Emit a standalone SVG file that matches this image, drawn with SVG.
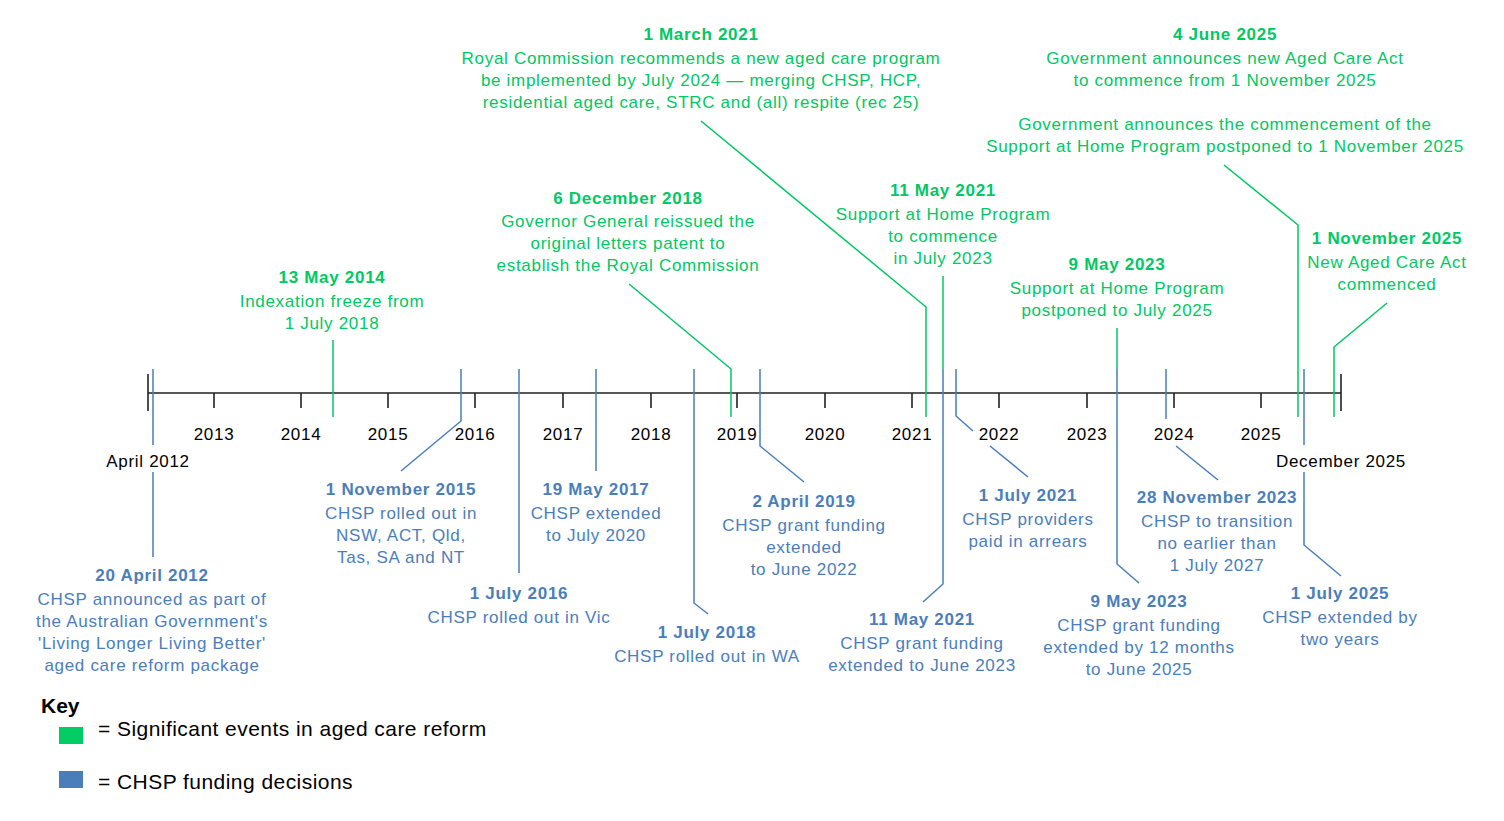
<svg xmlns="http://www.w3.org/2000/svg" width="1504" height="821" viewBox="0 0 1504 821">
<style>
text{font-family:"Liberation Sans",Arial,sans-serif;font-size:17px;letter-spacing:0.7px;text-anchor:middle}
.g{fill:#00C864}
.b{fill:#4A7EBB}
.k{fill:#000}
.h{font-weight:bold}
.gl{stroke:#00C864;stroke-width:1.5;fill:none}
.bl{stroke:#4A7EBB;stroke-width:1.5;fill:none}
.ax{stroke:#222;stroke-width:1.6;fill:none}
.key{font-size:21px;letter-spacing:0.45px;text-anchor:start}
</style>
<rect width="1504" height="821" fill="#fff"/>
<g id="axis">
<path class="ax" d="M148 393H1341M148 374V411M1341 374V411M214 393V408M301 393V408M388 393V408M475 393V408M563 393V408M651 393V408M737 393V408M825 393V408M912 393V408M999 393V408M1087 393V408M1174 393V408M1261 393V408"/>
<g class="k">
<text x="214" y="440">2013</text>
<text x="301" y="440">2014</text>
<text x="388" y="440">2015</text>
<text x="475" y="440">2016</text>
<text x="563" y="440">2017</text>
<text x="651" y="440">2018</text>
<text x="737" y="440">2019</text>
<text x="825" y="440">2020</text>
<text x="912" y="440">2021</text>
<text x="999" y="440">2022</text>
<text x="1087" y="440">2023</text>
<text x="1174" y="440">2024</text>
<text x="1261" y="440">2025</text>
<text x="148" y="467">April 2012</text>
<text x="1341" y="467">December 2025</text>
</g>
</g>
<g id="connectors">
<path class="bl" d="M153 369V445M153 472V557"/>
<path class="bl" d="M461 369V421L401 471"/>
<path class="bl" d="M519 369V573"/>
<path class="bl" d="M596 369V471"/>
<path class="bl" d="M694 369V603L708 614"/>
<path class="bl" d="M760 369V446L804 482"/>
<path class="bl" d="M943 369V584L923 602"/>
<path class="bl" d="M956 369V416L973 431M990 446L1028 477"/>
<path class="bl" d="M1117 369V564L1139 583"/>
<path class="bl" d="M1166 369V419M1176 446L1218 480"/>
<path class="bl" d="M1304 369V445M1304 472V545L1341 576"/>
<path class="gl" d="M333 340V417"/>
<path class="gl" d="M629 284L731 369V417"/>
<path class="gl" d="M701 121L926 307V417"/>
<path class="gl" d="M943 276V369"/>
<path class="gl" d="M1117 328V369"/>
<path class="gl" d="M1224 165L1298 225V417"/>
<path class="gl" d="M1387 303L1334 347V417"/>
</g>
<g id="ev-2021-03-01" class="g">
<text class="h" x="701" y="40">1 March 2021</text>
<text x="701" y="64">Royal Commission recommends a new aged care program</text>
<text x="701" y="86">be implemented by July 2024 — merging CHSP, HCP,</text>
<text x="701" y="108">residential aged care, STRC and (all) respite (rec 25)</text>
</g>
<g id="ev-2025-06-04" class="g">
<text class="h" x="1225" y="40">4 June 2025</text>
<text x="1225" y="64">Government announces new Aged Care Act</text>
<text x="1225" y="86">to commence from 1 November 2025</text>
<text x="1225" y="130">Government announces the commencement of the</text>
<text x="1225" y="152">Support at Home Program postponed to 1 November 2025</text>
</g>
<g id="ev-2018-12-06" class="g">
<text class="h" x="628" y="204">6 December 2018</text>
<text x="628" y="227">Governor General reissued the</text>
<text x="628" y="249">original letters patent to</text>
<text x="628" y="271">establish the Royal Commission</text>
</g>
<g id="ev-2021-05-11-g" class="g">
<text class="h" x="943" y="196">11 May 2021</text>
<text x="943" y="220">Support at Home Program</text>
<text x="943" y="242">to commence</text>
<text x="943" y="264">in July 2023</text>
</g>
<g id="ev-2014-05-13" class="g">
<text class="h" x="332" y="283">13 May 2014</text>
<text x="332" y="307">Indexation freeze from</text>
<text x="332" y="329">1 July 2018</text>
</g>
<g id="ev-2023-05-09-g" class="g">
<text class="h" x="1117" y="270">9 May 2023</text>
<text x="1117" y="294">Support at Home Program</text>
<text x="1117" y="316">postponed to July 2025</text>
</g>
<g id="ev-2025-11-01" class="g">
<text class="h" x="1387" y="244">1 November 2025</text>
<text x="1387" y="268">New Aged Care Act</text>
<text x="1387" y="290">commenced</text>
</g>
<g id="ev-2012-04-20" class="b">
<text class="h" x="152" y="581">20 April 2012</text>
<text x="152" y="605">CHSP announced as part of</text>
<text x="152" y="627">the Australian Government's</text>
<text x="152" y="649">'Living Longer Living Better'</text>
<text x="152" y="671">aged care reform package</text>
</g>
<g id="ev-2015-11-01" class="b">
<text class="h" x="401" y="495">1 November 2015</text>
<text x="401" y="519">CHSP rolled out in</text>
<text x="401" y="541">NSW, ACT, Qld,</text>
<text x="401" y="563">Tas, SA and NT</text>
</g>
<g id="ev-2016-07-01" class="b">
<text class="h" x="519" y="599">1 July 2016</text>
<text x="519" y="623">CHSP rolled out in Vic</text>
</g>
<g id="ev-2017-05-19" class="b">
<text class="h" x="596" y="495">19 May 2017</text>
<text x="596" y="519">CHSP extended</text>
<text x="596" y="541">to July 2020</text>
</g>
<g id="ev-2018-07-01" class="b">
<text class="h" x="707" y="638">1 July 2018</text>
<text x="707" y="662">CHSP rolled out in WA</text>
</g>
<g id="ev-2019-04-02" class="b">
<text class="h" x="804" y="507">2 April 2019</text>
<text x="804" y="531">CHSP grant funding</text>
<text x="804" y="553">extended</text>
<text x="804" y="575">to June 2022</text>
</g>
<g id="ev-2021-05-11-b" class="b">
<text class="h" x="922" y="625">11 May 2021</text>
<text x="922" y="649">CHSP grant funding</text>
<text x="922" y="671">extended to June 2023</text>
</g>
<g id="ev-2021-07-01" class="b">
<text class="h" x="1028" y="501">1 July 2021</text>
<text x="1028" y="525">CHSP providers</text>
<text x="1028" y="547">paid in arrears</text>
</g>
<g id="ev-2023-11-28" class="b">
<text class="h" x="1217" y="503">28 November 2023</text>
<text x="1217" y="527">CHSP to transition</text>
<text x="1217" y="549">no earlier than</text>
<text x="1217" y="571">1 July 2027</text>
</g>
<g id="ev-2023-05-09-b" class="b">
<text class="h" x="1139" y="607">9 May 2023</text>
<text x="1139" y="631">CHSP grant funding</text>
<text x="1139" y="653">extended by 12 months</text>
<text x="1139" y="675">to June 2025</text>
</g>
<g id="ev-2025-07-01" class="b">
<text class="h" x="1340" y="599">1 July 2025</text>
<text x="1340" y="623">CHSP extended by</text>
<text x="1340" y="645">two years</text>
</g>
<g id="key">
<text class="key h k" x="41" y="713" style="letter-spacing:0">Key</text>
<rect x="59" y="727" width="24" height="17" fill="#00CC66"/>
<text class="key k" x="98" y="736">= Significant events in aged care reform</text>
<rect x="59" y="771" width="24" height="17" fill="#4A7EBB"/>
<text class="key k" x="98" y="789">= CHSP funding decisions</text>
</g>
</svg>
